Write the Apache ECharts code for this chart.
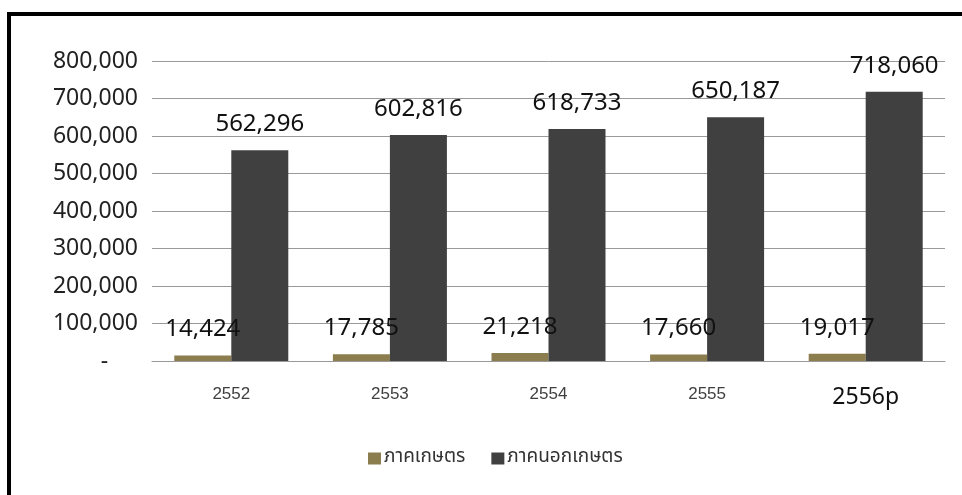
<!DOCTYPE html>
<html>
<head>
<meta charset="utf-8">
<script src="https://cdn.jsdelivr.net/npm/echarts@6/dist/echarts.min.js"></script>
<style>
html,body{margin:0;padding:0;background:#fff;}
#chart{width:962px;height:495px;}
</style>
</head>
<body>
<div id="chart"></div>
<script>
var categories = ['2552', '2553', '2554', '2555', '2556p'];
var agriValues = [14424, 17785, 21218, 17660, 19017];
var nonAgriValues = [562296, 602816, 618733, 650187, 718060];
var seriesNames = ['ภาคเกษตร', 'ภาคนอกเกษตร'];
var yTicks = [0, 100000, 200000, 300000, 400000, 500000, 600000, 700000, 800000];

function fmt(v) {
  return v.toString().replace(/\B(?=(\d{3})+(?!\d))/g, ',');
}

var catData = categories.map(function (c, i) {
  if (i === categories.length - 1) {
    return { value: c, textStyle: { fontSize: 23, color: '#111', fontFamily: 'Noto Sans' } };
  }
  return c;
});

var labelStyle = {
  show: true,
  position: 'top',
  distance: 14,
  fontSize: 24,
  color: '#111',
  fontFamily: 'Noto Sans',
  formatter: function (p) { return fmt(p.value); }
};

var chart = echarts.init(document.getElementById('chart'));
chart.setOption({
  animation: false,
  backgroundColor: '#fff',
  grid: { left: 152, right: 17, top: 61, bottom: 134, containLabel: false },
  legend: {
    bottom: 22,
    left: 363,
    itemWidth: 13,
    itemHeight: 12,
    itemGap: 26,
    icon: 'rect',
    textStyle: { fontSize: 19, color: '#333', fontFamily: 'Noto Sans Thai, Noto Sans, sans-serif', padding: [0, 0, 0, -2] },
    data: seriesNames
  },
  xAxis: {
    type: 'category',
    data: catData,
    axisLine: { lineStyle: { color: '#999', width: 1 } },
    axisTick: { show: false },
    axisLabel: { margin: 25, fontSize: 17, color: '#404040', fontFamily: 'Liberation Sans' }
  },
  yAxis: {
    type: 'value',
    min: yTicks[0],
    max: yTicks[yTicks.length - 1],
    interval: 100000,
    axisLine: { show: false },
    axisTick: { show: false },
    splitLine: { lineStyle: { color: '#999', width: 1 } },
    axisLabel: {
      margin: 14,
      fontSize: 23,
      color: '#222',
      fontFamily: 'Noto Sans',
      formatter: function (v) { return v === 0 ? '-     ' : fmt(v); }
    }
  },
  series: [
    {
      name: seriesNames[0],
      type: 'bar',
      data: agriValues,
      barWidth: 57,
      barGap: '0%',
      itemStyle: { color: '#8B7D4E' },
      label: labelStyle
    },
    {
      name: seriesNames[1],
      type: 'bar',
      data: nonAgriValues,
      barWidth: 57,
      barGap: '0%',
      itemStyle: { color: '#404040' },
      label: labelStyle
    }
  ],
  graphic: [
    { type: 'rect', shape: { x: 7, y: 12, width: 955, height: 4 }, style: { fill: '#000' }, silent: true },
    { type: 'rect', shape: { x: 7, y: 12, width: 4, height: 483 }, style: { fill: '#000' }, silent: true }
  ]
});
</script>
</body>
</html>
